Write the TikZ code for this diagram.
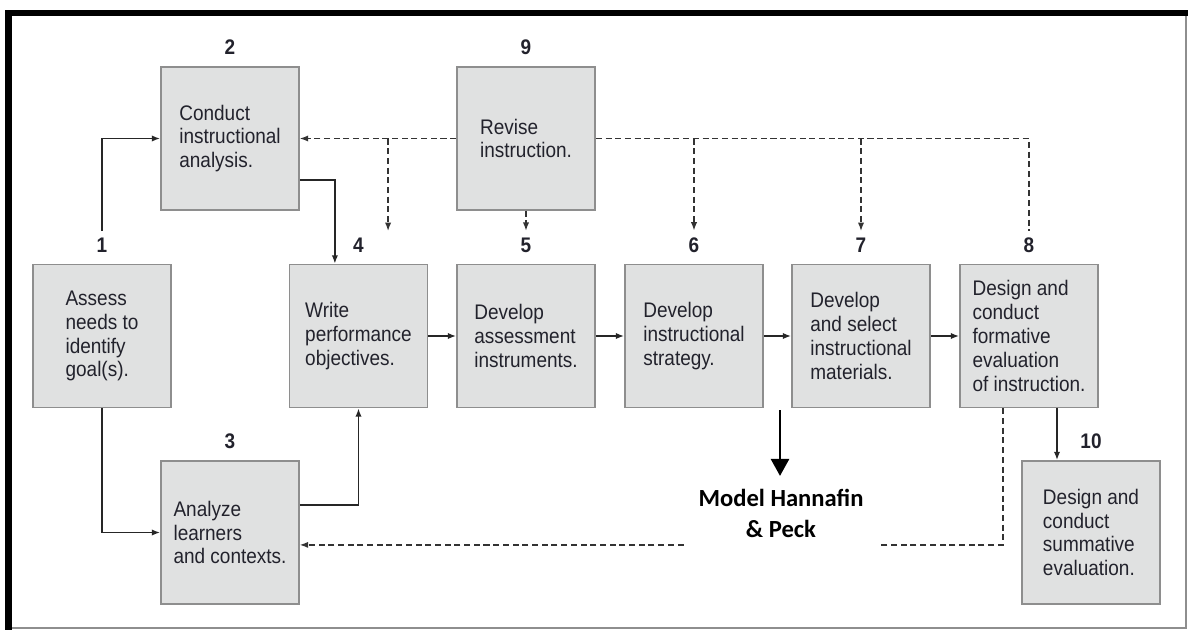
\documentclass[tikz,border=0pt]{standalone}
\usepackage{fontspec}
\setmainfont{Liberation Sans}[FakeStretch=0.9]
\newfontfamily\modelfont{Carlito}
\usetikzlibrary{arrows.meta, positioning}
\definecolor{boxfill}{HTML}{E0E1E1}
\definecolor{boxline}{HTML}{8E8E8E}
\definecolor{ink}{HTML}{22222C}

\begin{document}
\begin{tikzpicture}[x=0.025cm, y=-0.025cm,
    stage/.style={draw=boxline, fill=boxfill, line width=1.1pt, minimum width=3.45cm, minimum height=3.575cm,
        inner sep=0pt, align=left, text=ink, font=\fontsize{15}{17}\selectfont},
    num/.style={inner sep=0pt, text=ink, font=\fontsize{15}{15}\selectfont\bfseries},
    flow/.style={-{Latex[length=6pt,width=4.5pt]}, line width=1.1pt, draw=black!85},
    back/.style={dash pattern=on 4.3pt off 2.6pt, line width=1pt, draw=black!80},
    backtip/.style={back, -{Latex[length=6pt,width=4.5pt]}},
]
    \useasboundingbox (0,0) rectangle (1188,630);
    \draw[boxline, line width=0.8pt] (8,628) -- (1186,628) -- (1186,13);
    \draw[line width=4.3pt] (8.5,630) -- (8.5,13) -- (1188,13);

    \node[stage] (b1) at (102,336) {Assess\\needs to\\identify\\goal(s).};
    \node[stage] (b2) at (230,138.5) {Conduct\\instructional\\analysis.};
    \node[stage] (b3) at (230,532.5) {Analyze\\learners\\and contexts.};
    \node[stage] (b4) at (358.5,336) {Write\\performance\\objectives.};
    \node[stage] (b5) at (526,336) {Develop\\assessment\\instruments.};
    \node[stage] (b6) at (694,336) {Develop\\instructional\\strategy.};
    \node[stage] (b7) at (861,336) {Develop\\and select\\instructional\\materials.};
    \node[stage] (b8) at (1029,336) {Design and\\conduct\\formative\\evaluation\\of instruction.};
    \node[stage] (b9) at (526,138.5) {Revise\\instruction.};
    \node[stage] (b10) at (1091,532.5) {Design and\\conduct\\summative\\evaluation.};

    \foreach \i in {1,...,10}
        \node[num, above=0.28cm of b\i] (l\i) {\i};

    \draw[flow] ([yshift=0.16cm]l1.north) |- (b2.west);
    \draw[flow] ([yshift=-1.04cm]b2.east) -| ([xshift=-0.59cm]b4.north);
    \draw[flow] (b1.south) |- (b3.west);
    \draw[flow] ([yshift=0.69cm]b3.east) -| (b4.south);
    \draw[flow] (b4.east) -- (b5.west);
    \draw[flow] (b5.east) -- (b6.west);
    \draw[flow] (b6.east) -- (b7.west);
    \draw[flow] (b7.east) -- (b8.west);
    \draw[flow] ([xshift=-0.85cm]b10.north |- b8.south) -- ([xshift=-0.85cm]b10.north);

    \draw[backtip] (b9.west) -- (b2.east);
    \draw[backtip, shorten >=0.16cm] ([xshift=0.74cm]b4.north |- b9.west) -- ([xshift=0.74cm]l4.north);
    \draw[backtip, shorten >=0.16cm] (b9.south) -- (l5.north);
    \draw[backtip, shorten >=0.16cm] (b9.east -| l6.north) -- (l6.north);
    \draw[backtip, shorten >=0.16cm] (b9.east -| l7.north) -- (l7.north);
    \draw[back] (b9.east) -| ([yshift=0.16cm]l8.north);

    \draw[backtip] ([xshift=-0.65cm]b8.south) |- ([yshift=-0.31cm]b3.east);
    \node[fill=white, inner xsep=0.375cm, inner ysep=7pt, align=center,
        font=\modelfont\bfseries\fontsize{17.5}{22}\selectfont] (model) at (781,513) {Model Hannafin\\\& Peck};
    \coordinate (hp) at (780,410);
    \draw[line width=1.1pt, -{Triangle[length=12pt,width=13pt]}, shorten >=2pt] (hp) -- (hp |- model.north);
\end{tikzpicture}
\end{document}
